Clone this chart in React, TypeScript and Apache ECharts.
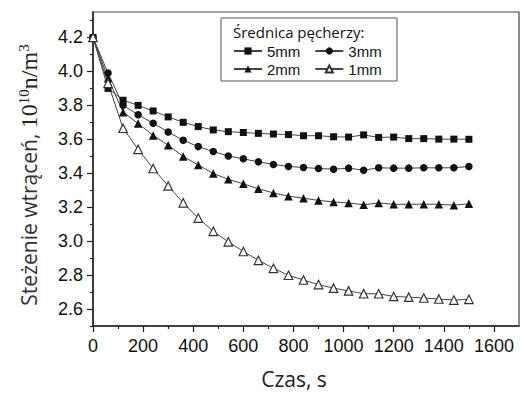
import React, { useEffect, useRef } from "react";
import * as echarts from "echarts";

const times = [0, 60, 120, 180, 240, 300, 360, 420, 480, 540, 600, 660, 720, 780, 840, 900, 960, 1020, 1080, 1140, 1200, 1260, 1320, 1380, 1440, 1500];

const d5mm = [4.2, 3.9, 3.83, 3.8, 3.767, 3.732, 3.7, 3.675, 3.655, 3.645, 3.64, 3.635, 3.631, 3.628, 3.621, 3.621, 3.615, 3.613, 3.626, 3.611, 3.613, 3.604, 3.604, 3.601, 3.601, 3.6];
const d3mm = [4.2, 3.99, 3.8, 3.745, 3.694, 3.643, 3.594, 3.557, 3.528, 3.502, 3.485, 3.467, 3.452, 3.44, 3.434, 3.428, 3.424, 3.43, 3.418, 3.432, 3.43, 3.43, 3.432, 3.432, 3.432, 3.44];
const d2mm = [4.2, 3.96, 3.76, 3.693, 3.623, 3.565, 3.499, 3.448, 3.399, 3.364, 3.338, 3.308, 3.284, 3.265, 3.253, 3.24, 3.231, 3.225, 3.214, 3.225, 3.217, 3.217, 3.218, 3.217, 3.212, 3.22];
const d1mm = [4.2, 3.93, 3.665, 3.541, 3.428, 3.325, 3.226, 3.136, 3.058, 2.996, 2.939, 2.887, 2.84, 2.799, 2.771, 2.744, 2.723, 2.707, 2.69, 2.69, 2.674, 2.67, 2.665, 2.659, 2.653, 2.657];

const seriesNames = ["5mm", "3mm", "2mm", "1mm"];
const legendTitle = "Średnica pęcherzy:";
const xTitle = "Czas, s";

const xMajorTicks = [0, 200, 400, 600, 800, 1000, 1200, 1400, 1600];
const xMinorTicks = [100, 300, 500, 700, 900, 1100, 1300, 1500];
const yMajorTicks = [2.6, 2.8, 3.0, 3.2, 3.4, 3.6, 3.8, 4.0, 4.2];
const yMinorTicks = [2.5, 2.7, 2.9, 3.1, 3.3, 3.5, 3.7, 3.9, 4.1, 4.3];

const X_MIN = 0;
const X_MAX = 1700;
const Y_MIN = 2.5;
const Y_MAX = 4.35;

export default function App() {
  const ref = useRef<HTMLDivElement>(null);

  useEffect(() => {
    if (!ref.current) return;
    const chart = echarts.init(ref.current, null, { renderer: "svg" });
    const lineColor = "#444";
    const markColor = "#111";
    const pairs = (arr: number[]) => times.map((t, i) => [t, arr[i]]);

    const mk = (name: string, arr: number[], symbol: string, size: number, open = false) => ({
      name,
      type: "line",
      xAxisIndex: 0,
      yAxisIndex: 0,
      data: pairs(arr),
      symbol,
      symbolSize: size,
      showSymbol: true,
      showAllSymbol: true,
      clip: false,
      lineStyle: { color: lineColor, width: 1 },
      itemStyle: open
        ? { color: "#fff", borderColor: "#333", borderWidth: 1.2 }
        : { color: markColor, borderColor: markColor, borderWidth: 0 },
      emphasis: { disabled: true },
    });

    const labelFont = { fontFamily: "Liberation Sans", fontSize: 18, color: "#111" };
    const legendText = { fontFamily: "Liberation Sans", fontSize: 15, color: "#111", lineHeight: 16 };

    chart.setOption({
      animation: false,
      backgroundColor: "#fff",
      grid: {
        left: 93,
        right: 5,
        top: 12,
        bottom: 66,
        show: true,
        borderColor: "#444",
        borderWidth: 1.2,
        backgroundColor: "transparent",
      },
      xAxis: [
        {
          type: "value",
          min: X_MIN,
          max: X_MAX,
          position: "bottom",
          name: xTitle,
          nameLocation: "middle",
          nameGap: 42,
          nameTextStyle: { fontFamily: "Open Sans", fontSize: 21, color: "#222", padding: [0, 24, 0, 0] },
          axisLine: { show: true, lineStyle: { color: "#222", width: 1.5 } },
          axisTick: { show: true, customValues: xMajorTicks, length: 6, lineStyle: { color: "#222", width: 1.2 } },
          axisLabel: { customValues: xMajorTicks, margin: 11, formatter: (v: number) => String(v), ...labelFont },
          splitLine: { show: false },
        },
        {
          type: "value",
          min: X_MIN,
          max: X_MAX,
          position: "bottom",
          axisLine: { show: false },
          axisTick: { show: true, customValues: xMinorTicks, length: 3, lineStyle: { color: "#222", width: 1.2 } },
          axisLabel: { show: false },
          splitLine: { show: false },
        },
      ],
      yAxis: [
        {
          type: "value",
          min: Y_MIN,
          max: Y_MAX,
          position: "left",
          name: "{s|Steżenie wtrąceń, }{t|10}{p|10}{t|n/m}{p|3}",
          nameLocation: "middle",
          nameGap: 51,
          nameTextStyle: {
            padding: [0, 12, 0, 0],
            rich: {
              s: { fontFamily: "Open Sans", fontSize: 21, color: "#333", lineHeight: 26 },
              t: { fontFamily: "Liberation Serif", fontSize: 24, color: "#222", lineHeight: 26 },
              p: { fontFamily: "Liberation Serif", fontSize: 15, color: "#222", lineHeight: 15, verticalAlign: "top" },
            },
          },
          axisLine: { show: true, lineStyle: { color: "#222", width: 1.5 } },
          axisTick: { show: true, customValues: yMajorTicks, length: 6, lineStyle: { color: "#222", width: 1.2 } },
          axisLabel: {
            customValues: yMajorTicks,
            margin: 10,
            formatter: (v: number) => v.toFixed(1),
            ...labelFont,
          },
          splitLine: { show: false },
        },
        {
          type: "value",
          min: Y_MIN,
          max: Y_MAX,
          position: "left",
          axisLine: { show: false },
          axisTick: { show: true, customValues: yMinorTicks, length: 3, lineStyle: { color: "#222", width: 1.2 } },
          axisLabel: { show: false },
          splitLine: { show: false },
        },
      ],
      legend: [
        {
          data: [seriesNames[0], seriesNames[1]],
          left: 233,
          top: 43,
          orient: "horizontal",
          itemWidth: 28,
          itemHeight: 9,
          itemGap: 14,
          padding: 0,
          selectedMode: false,
          textStyle: legendText,
        },
        {
          data: [seriesNames[2], seriesNames[3]],
          left: 233,
          top: 61,
          orient: "horizontal",
          itemWidth: 28,
          itemHeight: 9,
          itemGap: 14,
          padding: 0,
          selectedMode: false,
          textStyle: legendText,
        },
      ],
      graphic: [
        {
          type: "rect",
          z: 3,
          shape: { x: 221, y: 18, width: 176, height: 63 },
          style: { fill: "#fff", stroke: "#555", lineWidth: 1 },
        },
        {
          type: "text",
          z: 4,
          x: 233,
          y: 32,
          style: {
            text: legendTitle,
            fontFamily: "Open Sans",
            fontSize: 15,
            fill: "#111",
            verticalAlign: "middle",
          },
        },
      ],
      series: [
        mk(seriesNames[0], d5mm, "rect", 7),
        mk(seriesNames[1], d3mm, "circle", 7.5),
        mk(seriesNames[2], d2mm, "triangle", 8.5),
        mk(seriesNames[3], d1mm, "triangle", 8.5, true),
      ],
    });

    return () => chart.dispose();
  }, []);

  return (
    <div
      ref={ref}
      style={{ position: "fixed", left: 0, top: 0, width: 524, height: 394, background: "#fff" }}
    />
  );
}
